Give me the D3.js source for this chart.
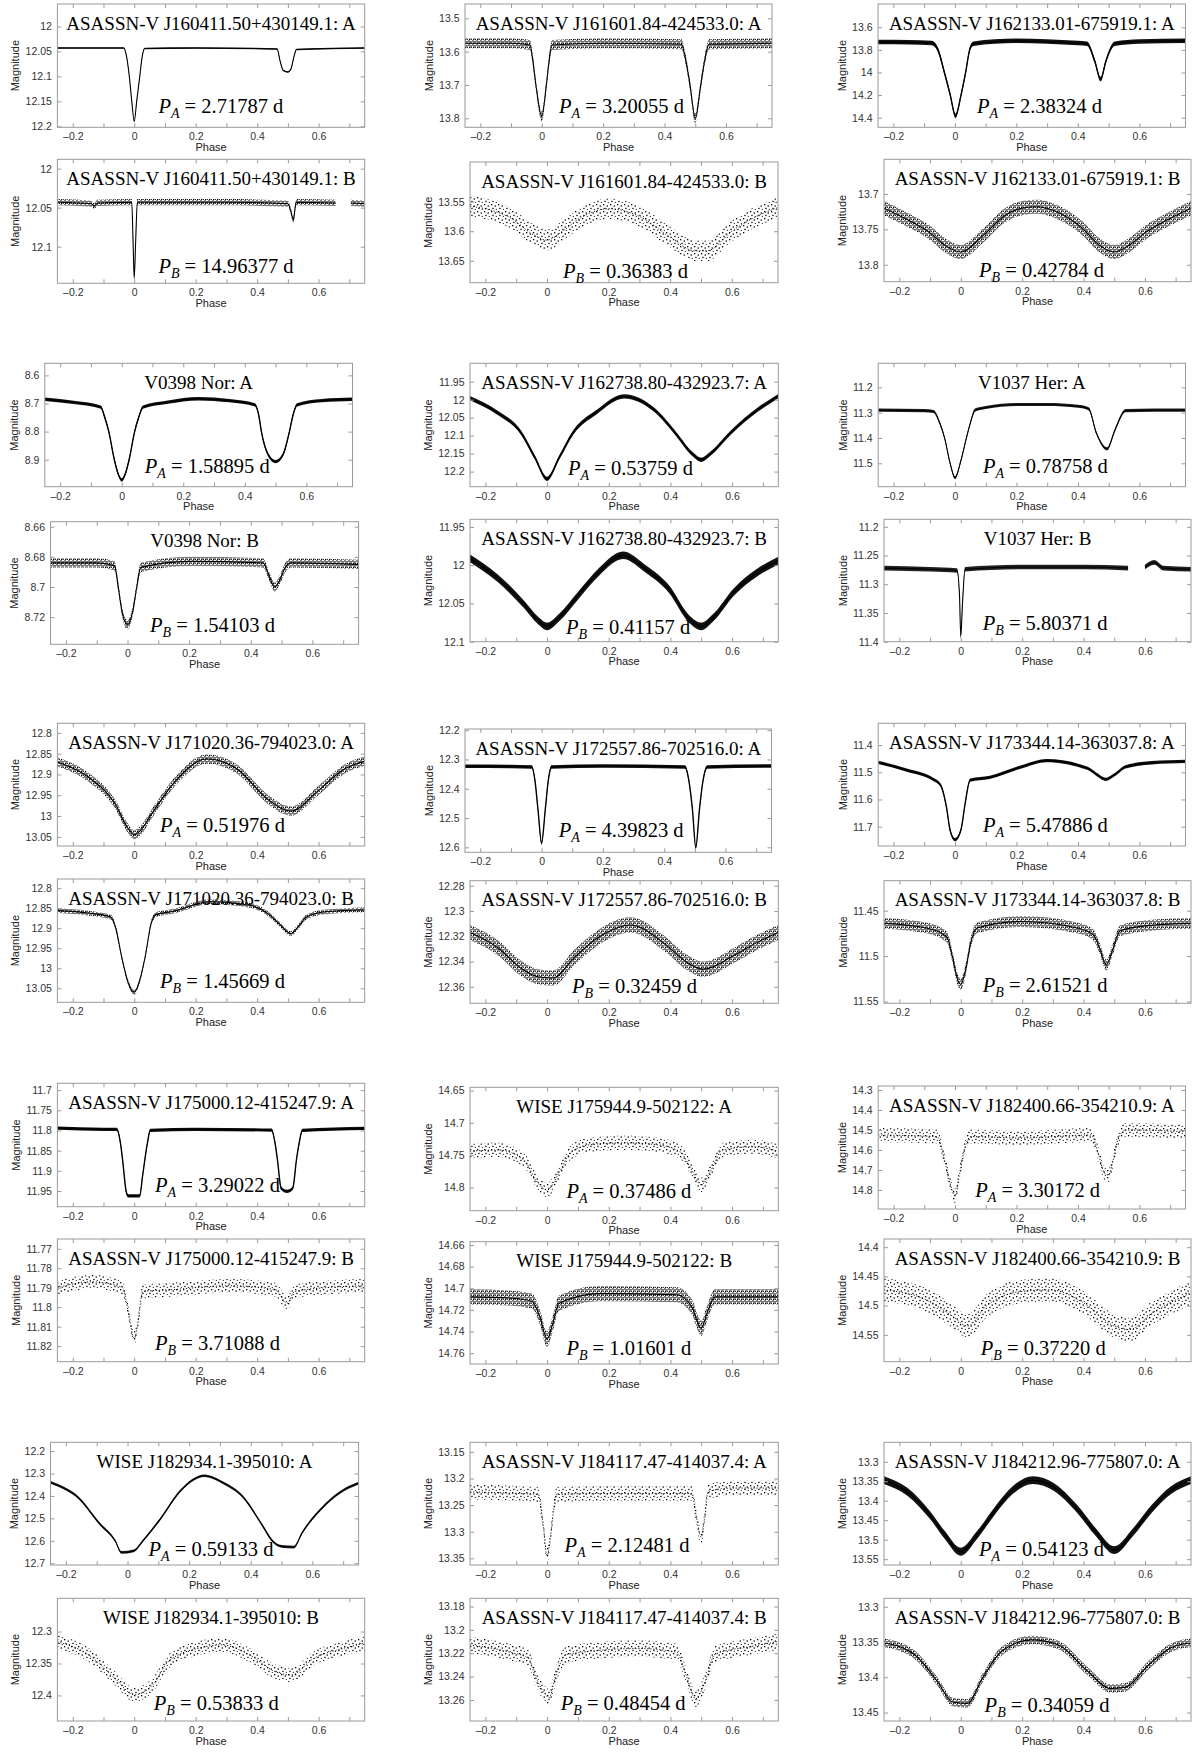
<!DOCTYPE html>
<html>
<head>
<meta charset="utf-8">
<script src="https://cdn.jsdelivr.net/npm/d3@7"></script>
<style>
  body { margin: 0; background: #fff; }
</style>
</head>
<body>
<div id="chart"></div>
<script>
// System names, row by row (each system has an A and a B panel)
const titles = [
    "ASASSN-V J160411.50+430149.1", "ASASSN-V J161601.84-424533.0", "ASASSN-V J162133.01-675919.1",
    "V0398 Nor", "ASASSN-V J162738.80-432923.7", "V1037 Her",
    "ASASSN-V J171020.36-794023.0", "ASASSN-V J172557.86-702516.0", "ASASSN-V J173344.14-363037.8",
    "ASASSN-V J175000.12-415247.9", "WISE J175944.9-502122", "ASASSN-V J182400.66-354210.9",
    "WISE J182934.1-395010", "ASASSN-V J184117.47-414037.4", "ASASSN-V J184212.96-775807.0"
];

// Periods in days (kept as text so trailing zeros stay)
const periodsA = ["2.71787", "3.20055", "2.38324", "1.58895", "0.53759", "0.78758", "0.51976", "4.39823",
                  "5.47886", "3.29022", "0.37486", "3.30172", "0.59133", "2.12481", "0.54123"];
const periodsB = ["14.96377", "0.36383", "0.42784", "1.54103", "0.41157", "5.80371", "1.45669", "0.32459",
                  "2.61521", "3.71088", "1.01601", "0.37220", "0.53833", "0.48454", "0.34059"];

// Magnitude axis limits [top, bottom]
const yDomainsA = [[11.955, 12.202], [13.457, 13.827], [13.394, 14.485], [8.557, 8.996], [11.899, 12.242],
                   [11.105, 11.5925], [12.777, 13.072], [12.196, 12.617], [11.32, 11.771], [11.683, 11.989],
                   [14.645, 14.836], [14.28, 14.895], [12.161, 12.708], [13.132, 13.3625], [13.25, 13.565]];
const yDomainsB = [[11.988, 12.147], [13.483, 13.687], [13.651, 13.824], [8.6567, 8.738], [11.94, 12.1],
                   [11.187, 11.4], [12.777, 13.085], [12.276, 12.373], [11.417, 11.552], [11.765, 11.828],
                   [14.657, 14.77], [14.386, 14.596], [12.248, 12.44], [13.173, 13.278], [13.288, 13.462]];

// Magnitude tick labels
const yTicksA = [[12, 12.05, 12.1, 12.15, 12.2], [13.5, 13.6, 13.7, 13.8], [13.6, 13.8, 14, 14.2, 14.4],
                 [8.6, 8.7, 8.8, 8.9], [11.95, 12, 12.05, 12.1, 12.15, 12.2], [11.2, 11.3, 11.4, 11.5],
                 [12.8, 12.85, 12.9, 12.95, 13, 13.05], [12.2, 12.3, 12.4, 12.5, 12.6], [11.4, 11.5, 11.6, 11.7],
                 [11.7, 11.75, 11.8, 11.85, 11.9, 11.95], [14.65, 14.7, 14.75, 14.8],
                 [14.3, 14.4, 14.5, 14.6, 14.7, 14.8], [12.2, 12.3, 12.4, 12.5, 12.6, 12.7],
                 [13.15, 13.2, 13.25, 13.3, 13.35], [13.3, 13.35, 13.4, 13.45, 13.5, 13.55]];
const yTicksB = [[12, 12.05, 12.1], [13.55, 13.6, 13.65], [13.7, 13.75, 13.8], [8.66, 8.68, 8.7, 8.72],
                 [11.95, 12, 12.05, 12.1], [11.2, 11.25, 11.3, 11.35, 11.4], [12.8, 12.85, 12.9, 12.95, 13, 13.05],
                 [12.28, 12.3, 12.32, 12.34, 12.36], [11.45, 11.5, 11.55], [11.77, 11.78, 11.79, 11.8, 11.81, 11.82],
                 [14.66, 14.68, 14.7, 14.72, 14.74, 14.76], [14.4, 14.45, 14.5, 14.55], [12.3, 12.35, 12.4],
                 [13.18, 13.2, 13.22, 13.24, 13.26], [13.3, 13.35, 13.4, 13.45]];

// Spread of the points around each curve (mag)
const scatterA = [0.003, 0.03, 0.04, 0.012, 0.012, 0.012, 0.022, 0.012, 0.012, 0.008, 0.022, 0.07, 0.012, 0.028, 0.02];
const scatterB = [0.008, 0.035, 0.02, 0.006, 0.01, 0.008, 0.012, 0.012, 0.012, 0.007, 0.014, 0.04, 0.022, 0.014, 0.012];

// Folded light curves: [phase, magnitude]; null = gap in the data
const j160411A = [[-0.25,12.043],[-0.1,12.043],[-0.034,12.043],[-0.025,12.06],[-0.016,12.1],[-0.008,12.15],[0,12.19],
    [0.008,12.15],[0.018,12.1],[0.026,12.06],[0.034,12.044],[0.2,12.043],[0.465,12.045],[0.475,12.07],[0.485,12.088],
    [0.5,12.091],[0.51,12.085],[0.52,12.06],[0.528,12.046],[0.75,12.043]];
const j160411B = [[-0.25,12.043],[-0.14,12.045],[-0.13,12.048],[-0.12,12.044],[-0.008,12.043],[-0.004,12.09],[0,12.14],
    [0.005,12.09],[0.01,12.043],[0.3,12.043],[0.5,12.045],[0.51,12.055],[0.518,12.066],[0.523,12.052],[0.527,12.043],
    [0.655,12.044], null, [0.705,12.044],[0.75,12.045]];
const j161601A = [[-0.25,13.575],[-0.1,13.575],[-0.038,13.58],[-0.03,13.62],[-0.019,13.7],[0,13.795],[0.015,13.7],
    [0.025,13.62],[0.033,13.58],[0.2,13.575],[0.455,13.578],[0.468,13.62],[0.483,13.7],[0.5,13.8],[0.518,13.7],
    [0.532,13.62],[0.545,13.578],[0.75,13.575]];
const j161601B = [[-0.25,13.558],[-0.2,13.562],[-0.12,13.577],[-0.04,13.607],[0,13.615],[0.05,13.6],[0.11,13.577],
    [0.2,13.562],[0.3,13.575],[0.4,13.61],[0.48,13.633],[0.52,13.633],[0.6,13.6],[0.68,13.575],[0.75,13.56]];
const j162133A = [[-0.25,13.73],[-0.15,13.732],[-0.075,13.74],[-0.055,13.8],[-0.034,14.0],[-0.015,14.2],[0.002,14.385],
    [0.02,14.2],[0.035,14.0],[0.048,13.8],[0.06,13.745],[0.2,13.72],[0.4,13.74],[0.43,13.745],[0.455,13.9],
    [0.474,14.06],[0.491,13.9],[0.52,13.745],[0.6,13.725],[0.75,13.72]];
const j162133B = [[-0.25,13.72],[-0.18,13.735],[-0.1,13.755],[-0.05,13.773],[0,13.782],[0.07,13.76],[0.145,13.73],
    [0.2,13.72],[0.25,13.718],[0.3,13.723],[0.4,13.75],[0.45,13.772],[0.5,13.782],[0.55,13.772],[0.6,13.755],
    [0.68,13.735],[0.75,13.72]];
const v0398A = [[-0.25,8.685],[-0.15,8.697],[-0.068,8.713],[-0.055,8.75],[-0.042,8.8],[-0.024,8.9],[-0.01,8.955],
    [0,8.972],[0.01,8.955],[0.024,8.9],[0.042,8.8],[0.055,8.75],[0.069,8.713],[0.15,8.695],[0.25,8.683],[0.35,8.69],
    [0.433,8.705],[0.445,8.74],[0.454,8.8],[0.475,8.88],[0.5,8.907],[0.525,8.88],[0.545,8.8],[0.557,8.74],
    [0.57,8.705],[0.65,8.69],[0.75,8.685]];
const v0398B = [[-0.25,8.684],[-0.1,8.684],[-0.042,8.686],[-0.03,8.7],[-0.019,8.715],[0,8.725],[0.018,8.715],
    [0.03,8.7],[0.043,8.687],[0.2,8.683],[0.44,8.684],[0.46,8.693],[0.478,8.7],[0.495,8.695],[0.512,8.687],
    [0.53,8.684],[0.75,8.685]];
const j162738A = [[-0.25,11.996],[-0.16,12.037],[-0.086,12.09],[-0.04,12.16],[0,12.22],[0.04,12.16],[0.086,12.09],
    [0.16,12.035],[0.25,11.991],[0.35,12.03],[0.42,12.097],[0.47,12.15],[0.5,12.167],[0.53,12.15],[0.6,12.088],
    [0.68,12.03],[0.75,11.99]];
const j162738B = [[-0.25,11.991],[-0.16,12.017],[-0.073,12.052],[-0.03,12.072],[0,12.08],[0.04,12.068],[0.1,12.04],
    [0.17,12.008],[0.246,11.987],[0.32,12.005],[0.395,12.031],[0.46,12.07],[0.5,12.08],[0.54,12.068],[0.606,12.035],
    [0.68,12.01],[0.75,11.994]];
const v1037A = [[-0.25,11.29],[-0.1,11.292],[-0.07,11.295],[-0.05,11.34],[-0.034,11.4],[-0.016,11.5],[0,11.557],
    [0.019,11.49],[0.037,11.4],[0.05,11.34],[0.065,11.29],[0.1,11.28],[0.2,11.268],[0.3,11.268],[0.4,11.275],
    [0.435,11.285],[0.46,11.38],[0.495,11.443],[0.52,11.37],[0.555,11.292],[0.65,11.29],[0.75,11.29]];
const v1037B = [[-0.25,11.272],[-0.1,11.274],[-0.012,11.276],[-0.004,11.32],[0,11.39],[0.006,11.33],[0.014,11.274],
    [0.2,11.27],[0.4,11.27],[0.545,11.272], null, [0.6,11.27],[0.63,11.262],[0.66,11.272],[0.75,11.274]];
const j171020A = [[-0.25,12.87],[-0.15,12.906],[-0.063,12.97],[-0.02,13.03],[0,13.045],[0.02,13.035],[0.061,12.99],
    [0.136,12.914],[0.236,12.863],[0.335,12.887],[0.435,12.96],[0.51,12.988],[0.597,12.94],[0.684,12.887],[0.75,12.868]];
const j171020B = [[-0.25,12.856],[-0.15,12.862],[-0.076,12.872],[-0.06,12.9],[-0.041,12.971],[-0.02,13.035],[0,13.06],
    [0.018,13.03],[0.036,12.97],[0.055,12.888],[0.071,12.866],[0.124,12.858],[0.248,12.834],[0.372,12.842],
    [0.434,12.863],[0.47,12.888],[0.51,12.913],[0.535,12.895],[0.56,12.872],[0.622,12.859],[0.75,12.854]];
const j172557A = [[-0.25,12.323],[-0.1,12.324],[-0.032,12.326],[-0.022,12.37],[-0.012,12.47],[0,12.585],[0.012,12.47],
    [0.022,12.37],[0.032,12.326],[0.2,12.322],[0.468,12.326],[0.48,12.37],[0.492,12.47],[0.503,12.6],[0.515,12.47],
    [0.527,12.37],[0.54,12.326],[0.75,12.322]];
const j172557B = [[-0.25,12.317],[-0.16,12.329],[-0.086,12.345],[-0.03,12.352],[0.02,12.353],[0.087,12.337],
    [0.172,12.32],[0.27,12.311],[0.382,12.326],[0.45,12.34],[0.507,12.346],[0.607,12.335],[0.68,12.325],[0.75,12.317]];
const j173344A = [[-0.25,11.464],[-0.157,11.492],[-0.071,11.526],[-0.047,11.547],[-0.028,11.627],[-0.016,11.713],
    [0,11.748],[0.019,11.713],[0.033,11.614],[0.049,11.529],[0.113,11.519],[0.211,11.482],[0.297,11.457],
    [0.432,11.486],[0.456,11.504],[0.491,11.526],[0.518,11.51],[0.555,11.48],[0.64,11.465],[0.75,11.46]];
const j173344B = [[-0.25,11.464],[-0.113,11.469],[-0.045,11.479],[-0.027,11.501],[-0.009,11.527],[0,11.531],
    [0.016,11.515],[0.032,11.486],[0.053,11.469],[0.194,11.462],[0.378,11.469],[0.433,11.477],[0.452,11.491],
    [0.474,11.51],[0.494,11.494],[0.519,11.472],[0.623,11.466],[0.75,11.464]];
const j175000A = [[-0.25,11.794],[-0.1,11.797],[-0.057,11.797],[-0.045,11.83],[-0.038,11.872],[-0.026,11.952],
    [-0.02,11.962],[0.018,11.962],[0.027,11.914],[0.043,11.831],[0.052,11.8],[0.2,11.797],[0.447,11.799],
    [0.458,11.83],[0.466,11.872],[0.478,11.943],[0.497,11.951],[0.516,11.943],[0.528,11.872],[0.537,11.83],
    [0.547,11.8],[0.75,11.795]];
const j175000B = [[-0.25,11.79],[-0.138,11.787],[-0.038,11.79],[-0.02,11.802],[0,11.816],[0.014,11.806],[0.027,11.792],
    [0.124,11.791],[0.31,11.789],[0.46,11.791],[0.497,11.798],[0.522,11.792],[0.622,11.79],[0.75,11.789]];
const wise175944A = [[-0.25,14.744],[-0.16,14.742],[-0.074,14.758],[-0.036,14.789],[0,14.804],[0.038,14.778],
    [0.075,14.747],[0.137,14.734],[0.25,14.731],[0.358,14.734],[0.432,14.745],[0.469,14.773],[0.5,14.796],
    [0.532,14.773],[0.569,14.742],[0.668,14.737],[0.75,14.744]];
const wise175944B = [[-0.25,14.708],[-0.123,14.709],[-0.049,14.712],[-0.024,14.726],[0,14.747],[0.019,14.732],
    [0.038,14.714],[0.172,14.705],[0.42,14.706],[0.469,14.717],[0.5,14.737],[0.519,14.723],[0.544,14.708],[0.75,14.708]];
const j182400A = [[-0.25,14.525],[-0.059,14.533],[-0.034,14.65],[-0.016,14.767],[0,14.83],[0.015,14.717],[0.033,14.583],
    [0.052,14.533],[0.211,14.54],[0.444,14.525],[0.463,14.6],[0.487,14.717],[0.5,14.725],[0.512,14.667],[0.53,14.55],
    [0.555,14.5],[0.75,14.508]];
const j182400B = [[-0.25,14.473],[-0.113,14.49],[-0.027,14.518],[0.022,14.535],[0.083,14.501],[0.194,14.476],
    [0.292,14.473],[0.402,14.496],[0.5,14.535],[0.55,14.541],[0.623,14.513],[0.75,14.478]];
const wise182934A = [[-0.25,12.34],[-0.2,12.37],[-0.166,12.4],[-0.09,12.525],[-0.04,12.6],[-0.02,12.652],[0.02,12.645],
    [0.05,12.6],[0.108,12.5],[0.17,12.38],[0.25,12.31],[0.312,12.343],[0.374,12.403],[0.436,12.528],[0.47,12.6],
    [0.5,12.625],[0.54,12.628],[0.567,12.564],[0.642,12.439],[0.704,12.372],[0.75,12.343]];
const wise182934B = [[-0.25,12.316],[-0.15,12.336],[-0.063,12.373],[0,12.399],[0.061,12.383],[0.111,12.347],
    [0.21,12.326],[0.285,12.321],[0.373,12.336],[0.46,12.363],[0.51,12.368],[0.584,12.342],[0.684,12.326],[0.75,12.318]];
const j184117A = [[-0.25,13.225],[-0.1,13.228],[-0.028,13.23],[-0.02,13.255],[-0.012,13.29],[0,13.345],[0.012,13.305],
    [0.022,13.255],[0.03,13.23],[0.2,13.228],[0.47,13.228],[0.482,13.265],[0.5,13.31],[0.513,13.265],[0.522,13.225],
    [0.6,13.218],[0.75,13.218]];
const j184117B = [[-0.25,13.213],[-0.123,13.219],[-0.062,13.224],[-0.036,13.241],[-0.012,13.253],[0.007,13.258],
    [0.026,13.241],[0.063,13.221],[0.296,13.216],[0.42,13.219],[0.451,13.239],[0.482,13.259],[0.513,13.244],
    [0.544,13.221],[0.668,13.214],[0.75,13.21]];
const j184212A = [[-0.25,13.347],[-0.174,13.377],[-0.1,13.437],[-0.052,13.488],[0,13.531],[0.053,13.488],[0.108,13.429],
    [0.169,13.373],[0.235,13.347],[0.304,13.365],[0.378,13.42],[0.439,13.48],[0.5,13.527],[0.562,13.48],[0.623,13.42],
    [0.685,13.373],[0.75,13.347]];
const j184212B = [[-0.25,13.351],[-0.15,13.368],[-0.076,13.406],[-0.027,13.435],[0.022,13.437],[0.071,13.401],
    [0.133,13.363],[0.231,13.347],[0.317,13.354],[0.415,13.392],[0.488,13.416],[0.537,13.414],[0.611,13.383],
    [0.685,13.358],[0.75,13.351]];

const curvesA = [j160411A, j161601A, j162133A, v0398A, j162738A, v1037A, j171020A, j172557A, j173344A,
                 j175000A, wise175944A, j182400A, wise182934A, j184117A, j184212A];
const curvesB = [j160411B, j161601B, j162133B, v0398B, j162738B, v1037B, j171020B, j172557B, j173344B,
                 j175000B, wise175944B, j182400B, wise182934B, j184117B, j184212B];

// Layout: panel boxes [left, right, top, bottom] in pixels
const boxesA = [[57.4,364.7,4,127.3], [465,772,4,127.3], [878,1185.5,4,127.3],
                [44.8,352.5,363.3,486.7], [470,778.3,363.3,486.7], [878.2,1185.5,363.3,486.7],
                [57.4,364.7,723.3,846], [465,771.5,729,852.3], [878.2,1185.5,723.3,846],
                [57.4,364.7,1083.3,1206.7], [470,778.3,1087.3,1210.7], [878.2,1185.5,1086,1209],
                [50.5,358.6,1442.3,1565], [470,778.3,1442.3,1565], [884,1191,1442.3,1565]];
const boxesB = [[57.4,364.7,159.3,283.3], [470,778,162,282.7], [884,1191,159.3,281.7],
                [50.5,358.6,521.7,644.3], [470,778.3,519.3,641.7], [884,1191,519.3,641.7],
                [57.4,364.7,879,1002.3], [470,778.3,880.7,1003.3], [884,1191,880.7,1003.3],
                [57.4,364.7,1239,1361.7], [470,778.3,1241.7,1364], [884,1191,1239,1361.7],
                [57.4,364.7,1598.3,1721], [470,778.3,1598.3,1721], [884,1191,1598.3,1721]];
// Period label offsets [from left edge, up from bottom edge]
const labelPosA = [[101,14.6],[94,14],[99,14.6],[100,13.4],[98,11.7],[104.7,13.4],[102.6,14.3],[93.7,15.6],
                   [104.7,14.3],[97.6,14.4],[96.4,12.4],[97,12.3],[98,9.3],[94.5,12.7],[95,9.3]];
const labelPosB = [[101,10.6],[93,5],[95,5],[99.5,12],[96,7.4],[98.7,11.7],[102.6,14.6],[102,10],
                   [98.7,11.6],[97.6,11.7],[96.4,9],[96.8,6.7],[96.4,11],[90.7,11],[100.6,9.3]];
// How the points look in each panel
const styleA = ["line","dense","solid","solid","solid","line","dense","solid","solid","solid","sparse","sparse","line","sparse","solid"];
const styleB = ["dense","sparse","dense","dense","solid","line","dense","dense","dense","sparse","dense","sparse","sparse","sparse","dense"];

const serif = "'Liberation Serif', 'Times New Roman', serif";
const sans = "'Liberation Sans', Arial, Helvetica, sans-serif";
const axisGray = "#9a9a9a";

const svg = d3.select("#chart").append("svg")
    .attr("width", 1200)
    .attr("height", 1753);

// Stipple fills standing in for the scattered points
const defs = svg.append("defs");
const dense = defs.append("pattern").attr("id", "dotsDense")
    .attr("patternUnits", "userSpaceOnUse").attr("width", 4).attr("height", 4);
[[0.3,0.3,1.4],[2.3,1.2,1.4],[1,2.6,1.4],[3,3,0.9]].forEach(p =>
    dense.append("rect").attr("x", p[0]).attr("y", p[1]).attr("width", p[2]).attr("height", p[2]).attr("fill", "#000"));
const sparse = defs.append("pattern").attr("id", "dotsSparse")
    .attr("patternUnits", "userSpaceOnUse").attr("width", 7).attr("height", 7);
[[1,1,1.3],[4.6,2.4,1.3],[2.3,4.8,1.3],[5.8,5.9,1]].forEach(p =>
    sparse.append("rect").attr("x", p[0]).attr("y", p[1]).attr("width", p[2]).attr("height", p[2]).attr("fill", "#000"));

const styles = {
    solid:  { fill: "#111", width: 1.4, dash: null },
    line:   { fill: "#222", width: 1.1, dash: null },
    dense:  { fill: "url(#dotsDense)", width: 1.1, dash: null },
    sparse: { fill: "url(#dotsSparse)", width: 0.9, dash: "1.2 1.8" }
};

function fmtPhase(d) {
    if (Math.round(d * 10) % 2 !== 0) return "";
    if (Math.abs(d) < 1e-9) return "0";
    return d < 0 ? "\u2013" + Math.abs(d) : String(d);
}

// Draw one light-curve panel
function drawPanel(id, title, comp, period, box, domain, ticks, curve, scat, labelPos, styleName) {
    const [x0, x1, y0, y1] = box;
    const x = d3.scaleLinear().domain([-0.25, 0.75]).range([x0, x1]);
    const y = d3.scaleLinear().domain(domain).range([y0, y1]);
    const st = styles[styleName];
    const g = svg.append("g");

    g.append("clipPath").attr("id", "clip" + id)
      .append("rect").attr("x", x0).attr("y", y0).attr("width", x1 - x0).attr("height", y1 - y0);
    const plot = g.append("g").attr("clip-path", `url(#clip${id})`);

    const band = d3.area()
        .defined(d => d !== null)
        .x(d => x(d[0]))
        .y0(d => y(d[1] - scat / 2))
        .y1(d => y(d[1] + scat / 2))
        .curve(d3.curveMonotoneX);
    const mid = d3.line()
        .defined(d => d !== null)
        .x(d => x(d[0]))
        .y(d => y(d[1]))
        .curve(d3.curveMonotoneX);

    plot.append("path").attr("d", band(curve)).attr("fill", st.fill);
    plot.append("path").attr("d", mid(curve))
        .attr("fill", "none").attr("stroke", "#000")
        .attr("stroke-width", st.width)
        .attr("stroke-dasharray", st.dash);

    // Axes with inward ticks on all four sides
    const xt = d3.range(-2, 8).map(k => k / 10);
    const bottom = g.append("g").attr("transform", `translate(0,${y1})`)
        .call(d3.axisBottom(x).tickValues(xt).tickSize(-4).tickFormat(fmtPhase));
    bottom.selectAll("text").attr("y", 13).attr("dy", null);
    g.append("g").attr("transform", `translate(0,${y0})`)
        .call(d3.axisTop(x).tickValues(xt).tickSize(-4).tickFormat(""));
    const left = g.append("g").attr("transform", `translate(${x0},0)`)
        .call(d3.axisLeft(y).tickValues(ticks).tickSize(-4).tickPadding(5.5).tickFormat(d => String(d)));
    g.append("g").attr("transform", `translate(${x1},0)`)
        .call(d3.axisRight(y).tickValues(ticks).tickSize(-4).tickFormat(""));

    g.selectAll(".domain").remove();
    g.selectAll(".tick line").attr("stroke", axisGray);
    g.selectAll(".tick text").attr("fill", "#333").attr("font-family", sans).attr("font-size", 10.5);

    g.append("rect")
        .attr("x", x0).attr("y", y0).attr("width", x1 - x0).attr("height", y1 - y0)
        .attr("fill", "none").attr("stroke", axisGray).attr("stroke-width", 1);

    // Title inside the box
    g.append("text")
        .attr("x", (x0 + x1) / 2).attr("y", y0 + 25.5)
        .attr("text-anchor", "middle")
        .attr("font-family", serif).attr("font-size", 19).attr("fill", "#000")
        .text(`${title}: ${comp}`);

    // Period label
    const pl = g.append("text")
        .attr("x", x0 + labelPos[0]).attr("y", y1 - labelPos[1])
        .attr("font-family", serif).attr("font-size", 20.5).attr("fill", "#000");
    pl.append("tspan").attr("font-style", "italic").text("P");
    pl.append("tspan").attr("font-style", "italic").attr("font-size", 14).attr("dy", 5).text(comp);
    pl.append("tspan").attr("dy", -5).text(` = ${period} d`);

    // Axis titles
    g.append("text")
        .attr("x", (x0 + x1) / 2).attr("y", y1 + 23.5)
        .attr("text-anchor", "middle")
        .attr("font-family", sans).attr("font-size", 11).attr("fill", "#222")
        .text("Phase");
    const lb = left.node().getBBox();
    const lx = lb.x + x0 - 6.5;
    const cy = (y0 + y1) / 2;
    g.append("text")
        .attr("transform", `translate(${lx},${cy}) rotate(-90)`)
        .attr("text-anchor", "middle")
        .attr("font-family", sans).attr("font-size", 11).attr("fill", "#222")
        .text("Magnitude");
}

titles.forEach((t, i) => {
    drawPanel("A" + i, t, "A", periodsA[i], boxesA[i], yDomainsA[i], yTicksA[i], curvesA[i], scatterA[i], labelPosA[i], styleA[i]);
    drawPanel("B" + i, t, "B", periodsB[i], boxesB[i], yDomainsB[i], yTicksB[i], curvesB[i], scatterB[i], labelPosB[i], styleB[i]);
});
</script>
</body>
</html>
